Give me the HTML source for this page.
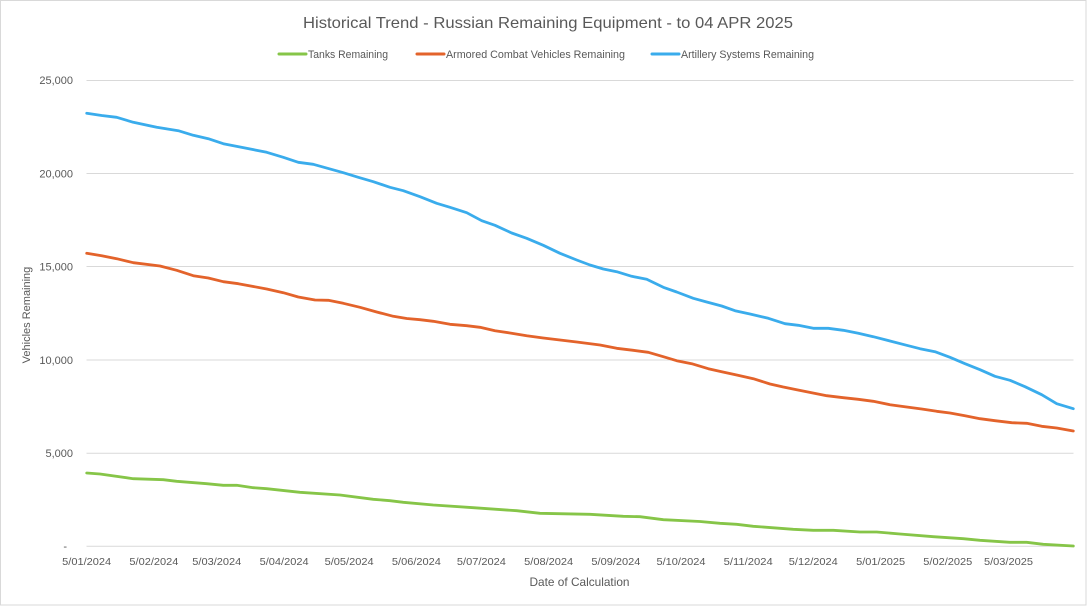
<!DOCTYPE html>
<html>
<head>
<meta charset="utf-8">
<style>
  html, body { margin: 0; padding: 0; background: #ffffff; }
  svg { display: block; font-family: "Liberation Sans", sans-serif; }
</style>
</head>
<body>
<svg width="1088" height="606" viewBox="0 0 1088 606" xmlns="http://www.w3.org/2000/svg">
  <rect x="0" y="0" width="1088" height="606" fill="#ffffff"/>
  <rect x="0.5" y="0.5" width="1085.5" height="604.5" fill="none" stroke="#D9D9D9" stroke-width="1"/>

  <!-- Title -->
  <text x="303" y="28" font-size="16" fill="#595959" textLength="490" lengthAdjust="spacingAndGlyphs">Historical Trend - Russian Remaining Equipment - to 04 APR 2025</text>

  <!-- Legend -->
  <line x1="279" y1="54" x2="306" y2="54" stroke="#86C548" stroke-width="3" stroke-linecap="round"/>
  <text x="308" y="58" font-size="11" fill="#595959" textLength="80" lengthAdjust="spacingAndGlyphs">Tanks Remaining</text>
  <line x1="417" y1="54" x2="444" y2="54" stroke="#E3632B" stroke-width="3" stroke-linecap="round"/>
  <text x="446" y="58" font-size="11" fill="#595959" textLength="179" lengthAdjust="spacingAndGlyphs">Armored Combat Vehicles Remaining</text>
  <line x1="652" y1="54" x2="679" y2="54" stroke="#3AACEC" stroke-width="3" stroke-linecap="round"/>
  <text x="681" y="58" font-size="11" fill="#595959" textLength="133" lengthAdjust="spacingAndGlyphs">Artillery Systems Remaining</text>

  <!-- Gridlines -->
  <g stroke="#D9D9D9" stroke-width="1">
    <line x1="86.5" y1="80.5" x2="1073.5" y2="80.5"/>
    <line x1="86.5" y1="173.5" x2="1073.5" y2="173.5"/>
    <line x1="86.5" y1="266.5" x2="1073.5" y2="266.5"/>
    <line x1="86.5" y1="360" x2="1073.5" y2="360"/>
    <line x1="86.5" y1="453.3" x2="1073.5" y2="453.3"/>
    <line x1="86.5" y1="546.3" x2="1073.5" y2="546.3"/>
  </g>

  <!-- Y tick labels -->
  <g font-size="11" fill="#595959" text-anchor="end">
    <text x="73" y="84">25,000</text>
    <text x="73" y="177.5">20,000</text>
    <text x="73" y="270.5">15,000</text>
    <text x="73" y="364">10,000</text>
    <text x="73" y="457">5,000</text>
    <text x="67" y="550">-</text>
  </g>

  <!-- Y axis title -->
  <text transform="translate(30,315) rotate(-90)" font-size="11" fill="#595959" text-anchor="middle">Vehicles Remaining</text>

  <!-- X tick labels -->
  <g font-size="10.5" fill="#595959" text-anchor="middle">
    <text x="86.7" y="565" textLength="49" lengthAdjust="spacingAndGlyphs">5/01/2024</text>
    <text x="153.9" y="565" textLength="49" lengthAdjust="spacingAndGlyphs">5/02/2024</text>
    <text x="216.8" y="565" textLength="49" lengthAdjust="spacingAndGlyphs">5/03/2024</text>
    <text x="284.1" y="565" textLength="49" lengthAdjust="spacingAndGlyphs">5/04/2024</text>
    <text x="349.1" y="565" textLength="49" lengthAdjust="spacingAndGlyphs">5/05/2024</text>
    <text x="416.4" y="565" textLength="49" lengthAdjust="spacingAndGlyphs">5/06/2024</text>
    <text x="481.4" y="565" textLength="49" lengthAdjust="spacingAndGlyphs">5/07/2024</text>
    <text x="548.7" y="565" textLength="49" lengthAdjust="spacingAndGlyphs">5/08/2024</text>
    <text x="615.9" y="565" textLength="49" lengthAdjust="spacingAndGlyphs">5/09/2024</text>
    <text x="681" y="565" textLength="49" lengthAdjust="spacingAndGlyphs">5/10/2024</text>
    <text x="748.2" y="565" textLength="49" lengthAdjust="spacingAndGlyphs">5/11/2024</text>
    <text x="813.3" y="565" textLength="49" lengthAdjust="spacingAndGlyphs">5/12/2024</text>
    <text x="880.6" y="565" textLength="49" lengthAdjust="spacingAndGlyphs">5/01/2025</text>
    <text x="947.8" y="565" textLength="49" lengthAdjust="spacingAndGlyphs">5/02/2025</text>
    <text x="1008.5" y="565" textLength="49" lengthAdjust="spacingAndGlyphs">5/03/2025</text>
  </g>

  <!-- X axis title -->
  <text x="579.5" y="586" font-size="12" fill="#595959" text-anchor="middle" textLength="100" lengthAdjust="spacingAndGlyphs">Date of Calculation</text>

  <!-- Series -->
  <g fill="none" stroke-width="2.8" stroke-linejoin="round" stroke-linecap="round">
    <polyline stroke="#3AACEC" points="86.7,113.3 101.7,115.5 116.7,117.3 133.3,122.3 156.7,127.3 178.3,130.7 193.3,135.3 208.3,138.7 223.3,143.7 240,147 266.7,152.3 283.3,157.3 298.3,162.3 313.3,164.3 343.3,172.7 358.3,177.3 373.3,181.7 390,187.3 403.3,190.7 420,196.7 436.7,203.3 450,207.3 466.7,212.7 481.7,220.7 495,225.3 511.7,233 526.7,238.3 543.3,245.3 560,253.3 576.7,260 590,265 603.3,269 616.7,271.7 631.7,276.3 646.7,279.3 663.3,287.3 676.7,292 693.3,298.3 706.7,302 721.7,306 735,310.7 750,314 768.3,318.3 785,323.7 798.3,325.3 813.3,328.3 828.3,328.3 843.3,330.3 858.3,333.3 873.3,336.7 890,341 906.7,345.3 920,348.7 935,351.7 950,357.3 965,363.7 980,369.7 995,376.3 1010,380.3 1025,386.7 1041.7,394.7 1056.7,403.7 1073.3,408.7"/>
    <polyline stroke="#E3632B" points="86.7,253.3 101.7,255.7 116.7,258.7 133.3,262.7 160,266 176.7,270.3 193.3,275.7 208.3,278 223.3,281.7 238.3,283.7 266.7,289 283.3,292.7 298.3,297 315,300 328.3,300.3 343.3,303.3 360,307.3 376.7,312 393.3,316.3 406.7,318.5 420,319.7 433.3,321.3 450,324.3 466.7,325.7 480,327.3 495,330.7 510,333 526.7,335.7 543.3,338 560,340 576.7,342 600,345 616.7,348.3 633.3,350.3 648.3,352.3 663.3,356.7 676.7,360.7 691.7,363.7 708.3,368.7 721.7,371.7 736.7,375 753.3,378.7 770,384 783.3,387 796.7,389.7 811.7,392.7 826.7,395.7 843.3,397.7 858.3,399.3 873.3,401.3 890,404.7 906.7,407 921.7,409 936.7,411.3 950,413 965,415.7 980,418.7 995,420.7 1011.7,422.7 1026.7,423.3 1041.7,426.3 1056.7,428 1073.3,431"/>
    <polyline stroke="#86C548" points="86.7,473 100,474 133.3,478.7 163.3,479.7 176.7,481.3 206.7,483.7 223.3,485.3 236.7,485.3 253.3,487.7 266.7,488.7 300,492.3 340,495 373.3,499.3 390,500.7 403.3,502.3 433.3,505 473.3,507.7 516.7,510.7 540,513.3 590,514.3 623.3,516.3 640,516.7 663.3,519.7 700,521.5 720,523.3 736.7,524.3 753.3,526.3 793.3,529.3 813.3,530.3 833.3,530.3 860,532 876.7,532 900,534 933.3,536.7 963.3,538.7 980,540.3 1010,542.3 1026.7,542.3 1043.3,544.3 1073.3,546"/>
  </g>
</svg>
</body>
</html>
